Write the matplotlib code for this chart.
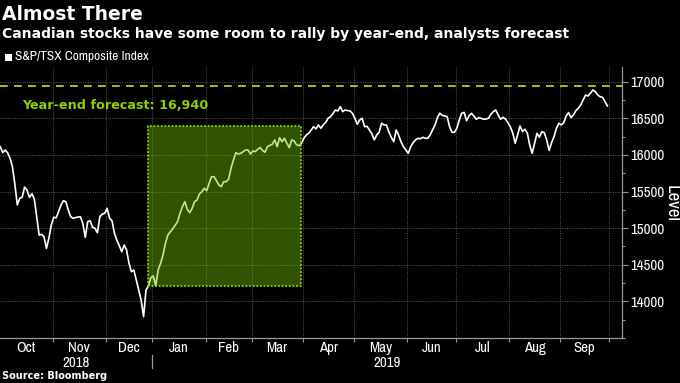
import numpy as np
import pandas as pd
import matplotlib
matplotlib.use("Agg")
import matplotlib.pyplot as plt
from matplotlib import font_manager
from matplotlib.patches import Rectangle
from matplotlib.transforms import blended_transform_factory

# ---------------- data ----------------
title = "Almost There"
subtitle = "Canadian stocks have some room to rally by year-end, analysts forecast"
series_name = "S&P/TSX Composite Index"
source = "Source: Bloomberg"
y_label = "Level"

start_date = "2018-10-01"
tsx_holidays = ["2018-10-08", "2018-12-25", "2018-12-26", "2019-01-01", "2019-02-18",
                "2019-04-19", "2019-05-20", "2019-07-01", "2019-08-05", "2019-09-02"]

# daily closes (one per trading day, starting 2018-10-01)
tsx_close = [
    16112, 16030, 16067, 16030, 15954, 15840, 15600, 15316, 15407, 15420,
    15560, 15520, 15420, 15470, 15400, 15156, 14906, 14915, 14880, 14724,
    14861, 15042, 15148, 15140, 15225, 15316, 15374, 15360, 15247, 15156,
    15134, 15145, 15150, 15156, 15060, 14874, 15089, 15101, 15011, 14997,
    14937, 15156, 15193, 15202, 15271, 15134, 15100, 14929, 14838, 14760,
    14678, 14770, 14701, 14519, 14405, 14428, 14291, 14155, 14018, 13790,
    14155, 14209, 14323, 14347, 14213, 14428, 14519, 14633, 14793, 14906,
    14951, 14990, 15040, 15088, 15202, 15293, 15361, 15257, 15211, 15271,
    15361, 15384, 15466, 15497, 15544, 15511, 15612, 15702, 15702, 15648,
    15589, 15566, 15634, 15634, 15667, 15817, 15930, 16030, 16012, 16021,
    16044, 16067, 16067, 16012, 16053, 16045, 16077, 16100, 16060, 16036,
    16112, 16130, 16144, 16204, 16112, 16235, 16180, 16227, 16159, 16099,
    16204, 16190, 16138, 16126, 16159, 16227, 16272, 16295, 16340, 16385,
    16354, 16409, 16363, 16409, 16445, 16500, 16522, 16568, 16613, 16600,
    16658, 16590, 16613, 16605, 16600, 16568, 16500, 16418, 16477, 16500,
    16385, 16390, 16340, 16290, 16204, 16272, 16309, 16432, 16409, 16409,
    16317, 16240, 16180, 16340, 16272, 16180, 16112, 16067, 16021, 16112,
    16167, 16204, 16227, 16220, 16240, 16227, 16227, 16272, 16340, 16409,
    16510, 16568, 16540, 16531, 16522, 16385, 16309, 16309, 16363, 16477,
    16568, 16580, 16467, 16531, 16568, 16531, 16486, 16508, 16500, 16486,
    16490, 16500, 16554, 16590, 16613, 16545, 16486, 16513, 16490, 16440,
    16385, 16300, 16159, 16270, 16395, 16320, 16350, 16300, 16135, 16021,
    16159, 16295, 16240, 16317, 16303, 16204, 16060, 16167, 16249, 16363,
    16432, 16409, 16440, 16531, 16577, 16508, 16545, 16604, 16636, 16682,
    16750, 16818, 16804, 16841, 16887, 16863, 16818, 16795, 16786, 16727,
    16668,
]

forecast = 16940
forecast_label = "Year-end forecast: 16,940"
box_dates = ("2018-12-28", "2019-03-29")
box_levels = (14210, 16400)

y_ticks = [14000, 14500, 15000, 15500, 16000, 16500, 17000]
y_limits = (13500, 17200)

# ---------------- styling ----------------
BG = "#000000"
GREEN = "#8fd000"
GRID = "#5a5a5a"
AXIS = "#9a9a9a"
BOLD = "DejaVu Sans"

fonts = font_manager.fontManager.ttflist
narrow_names = sorted({f.name for f in fonts if "Narrow" in f.name or "Condensed" in f.name})
dejavu_cond = any(f.name == "DejaVu Sans" and f.stretch == "condensed" for f in fonts)
if narrow_names:
    NARROW = dict(family=narrow_names[0])
    SCALE = 1.1
elif dejavu_cond:
    NARROW = dict(family="DejaVu Sans", stretch="condensed")
    SCALE = 0.95
else:
    NARROW = dict(family="DejaVu Sans")
    SCALE = 0.84


def nfp(size):
    return font_manager.FontProperties(size=size * SCALE, **NARROW)


# trading-day calendar
cal = pd.offsets.CustomBusinessDay(holidays=pd.to_datetime(tsx_holidays))
dates = pd.date_range(start_date, periods=len(tsx_close), freq=cal)
x = np.arange(len(dates))


def pos(d):
    return int(np.searchsorted(dates.values, np.datetime64(pd.Timestamp(d))))


fig = plt.figure(figsize=(6.8, 3.83), dpi=100, facecolor=BG)
ax = fig.add_axes([0.0, 1 - 338 / 383, 622 / 680, (338 - 67) / 383])
ax.set_facecolor(BG)

# line
ax.plot(x, tsx_close, color="white", lw=1.2, zorder=3, solid_joinstyle="round")

# highlight box
bx0, bx1 = pos(box_dates[0]), pos(box_dates[1])
ax.add_patch(Rectangle((bx0, box_levels[0]), bx1 - bx0, box_levels[1] - box_levels[0],
                       facecolor=(0.45, 0.78, 0.0), alpha=0.42, edgecolor="none", zorder=4))
ax.add_patch(Rectangle((bx0, box_levels[0]), bx1 - bx0, box_levels[1] - box_levels[0],
                       facecolor="none", edgecolor=GREEN, lw=1.3, linestyle=(0, (1, 1)), zorder=5))

# forecast line + text
ax.axhline(forecast, color=GREEN, lw=1.4, linestyle=(0, (4, 3.2)), zorder=3)
ax.text(0.035, forecast - 268, forecast_label,
        transform=blended_transform_factory(ax.transAxes, ax.transData),
        color=GREEN, fontsize=9.2, fontweight="bold", family=BOLD, va="center", ha="left")

# axes limits
x_right = len(dates) - 1 + 6
ax.set_xlim(-0.12, x_right)
ax.set_ylim(*y_limits)

# month boundaries
month_starts, month_names = [], []
prev = None
for i, d in enumerate(dates):
    key = (d.year, d.month)
    if key != prev:
        month_starts.append(i - 0.5)
        month_names.append(d.strftime("%b"))
        prev = key
bounds = month_starts + [len(dates) - 0.5]
ax.set_xticks(bounds[1:])
ax.set_xticklabels([])
centers = [(bounds[i] + bounds[i + 1]) / 2 for i in range(len(month_names))]
ax.set_xticks(centers, minor=True)
ax.set_xticklabels(month_names, minor=True)
ax.tick_params(axis="x", which="major", direction="out", length=3, color=AXIS, width=0.8)
ax.tick_params(axis="x", which="minor", length=0, pad=2, labelcolor="white")
for lab in ax.get_xticklabels(minor=True):
    lab.set_fontproperties(nfp(9.8))

# y axis on right
ax.yaxis.tick_right()
ax.set_yticks(y_ticks)
ax.set_yticks(np.arange(y_limits[0], y_limits[1] + 1, 250), minor=True)
ax.tick_params(axis="y", which="major", direction="out", length=4, color=AXIS, width=0.8,
               labelcolor="white", pad=2)
ax.tick_params(axis="y", which="minor", direction="out", length=2, color=AXIS, width=0.8)
for lab in ax.get_yticklabels():
    lab.set_fontproperties(nfp(9.8))

# grid
ax.grid(True, which="major", color=GRID, lw=0.7, linestyle=(0, (1, 1.5)))
for s in ["top", "left"]:
    ax.spines[s].set_visible(False)
for s in ["right", "bottom"]:
    ax.spines[s].set_color(AXIS)
    ax.spines[s].set_linewidth(0.9)

# year labels and separator
trans = blended_transform_factory(ax.transData, fig.transFigure)
jan = [b for b, n in zip(month_starts, month_names) if n == "Jan"][0]
xl = ax.get_xlim()
ax.text((xl[0] + jan) / 2, 1 - 363 / 383, "2018", transform=trans, color="white",
        fontproperties=nfp(9.8), ha="center", va="center", clip_on=False)
ax.text((jan + xl[1]) / 2, 1 - 363 / 383, "2019", transform=trans, color="white",
        fontproperties=nfp(9.8), ha="center", va="center", clip_on=False)
ax.plot([jan, jan], [1 - 355 / 383, 1 - 368 / 383], transform=trans, color=AXIS, lw=0.9, clip_on=False)

# y label
fig.text(672 / 680, 1 - 203 / 383, y_label, color="white", rotation=-90, ha="center", va="center",
         fontproperties=nfp(12.3))

# titles
fig.text(2 / 680, 1 - 14 / 383, title, color="white", fontsize=13.5, fontweight="bold",
         family=BOLD, va="center", ha="left")
fig.text(2 / 680, 1 - 34 / 383, subtitle, color="white", fontsize=10, fontweight="bold",
         family=BOLD, va="center", ha="left")
fig.add_artist(Rectangle((5 / 680, 1 - 61 / 383), 7 / 680, 7 / 383, transform=fig.transFigure,
                         facecolor="white", edgecolor="none"))
fig.text(15 / 680, 1 - 57 / 383, series_name, color="white", va="center", ha="left",
         fontproperties=nfp(8.8))
fig.text(2 / 680, 1 - 376 / 383, source, color="white", fontsize=7, fontweight="bold",
         family=BOLD, va="center", ha="left")

fig.savefig("out.png", dpi=100, facecolor=BG)
